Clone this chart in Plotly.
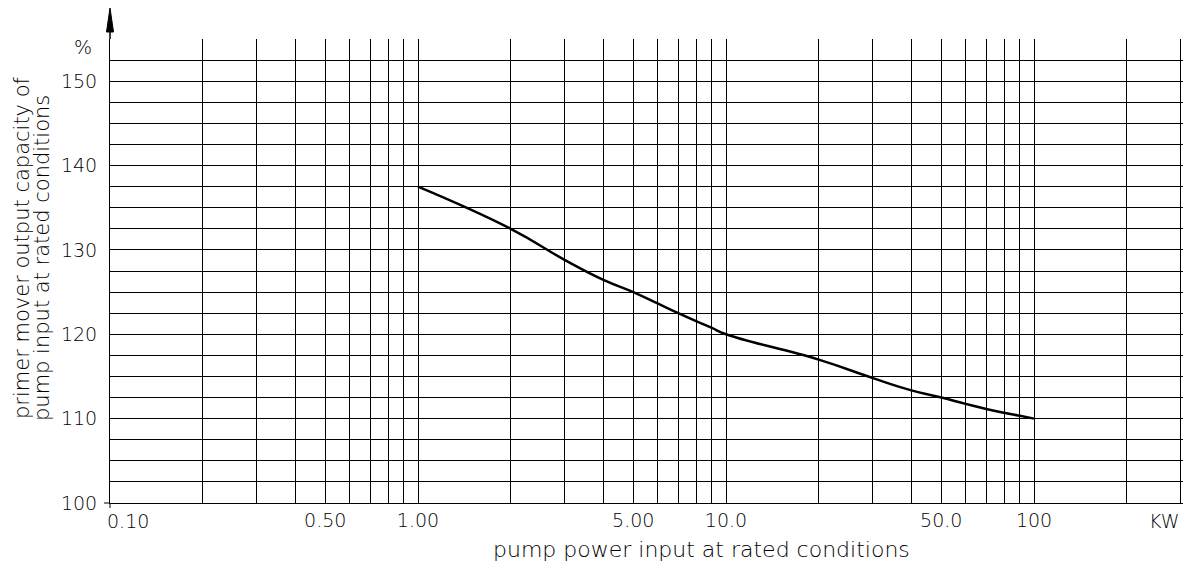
import math
import plotly.graph_objects as go

# ---- data ----
kw = [1, 2, 3, 4, 5, 6, 7, 8, 9, 10, 20, 30, 40, 50, 60, 70, 80, 90, 100]
capacity = [137.5, 132.5, 128.8, 126.45, 125.0, 123.65, 122.5, 121.55, 120.75, 120.0,
            117.0, 114.8, 113.35, 112.5, 111.75, 111.15, 110.7, 110.33, 110.0]

x_label_vals = [0.5, 1, 5, 10, 50, 100]
x_label_text = ["0.50", "1.00", "5.00", "10.0", "50.0", "100"]
x_first_label = "0.10"
x_unit_label = "KW"
x_grid_minor = [0.2, 0.3, 0.4, 0.6, 0.7, 0.8, 0.9,
                2, 3, 4, 6, 7, 8, 9,
                20, 30, 40, 60, 70, 80, 90,
                200, 300]

y_label_vals = [100, 110, 120, 130, 140, 150]
y_label_text = ["100", "110", "120", "130", "140", "150"]
y_grid_minor = [102.5, 105, 107.5, 112.5, 115, 117.5, 122.5, 125, 127.5,
                132.5, 135, 137.5, 142.5, 145, 147.5, 152.5]

x_title = "pump power input at rated conditions"
y_title_1 = "primer mover output capacity of"
y_title_2 = "pump input at rated conditions"
y_unit = "%"

FONT = "DejaVu Sans"
TXT = "#000000"
tickfont = dict(family=FONT, size=19, color=TXT, weight=200)
titlefont = dict(family=FONT, size=21, color=TXT, weight=200)
xtitlefont = dict(family=FONT, size=22, color=TXT, weight=200)

W, H = 1183, 563
ML, MR, MT, MB = 110, 0, 39, 60
PW, PH = W - ML - MR, H - MT - MB

fig = go.Figure()
fig.add_trace(go.Scatter(x=kw, y=capacity, mode="lines",
                         line=dict(color="black", width=2.5, shape="spline", smoothing=1.3),
                         hoverinfo="x+y"))

fig.update_xaxes(type="log", range=[-1, -1 + PW / 308.0],
                 tickvals=x_label_vals, ticktext=x_label_text,
                 tickfont=tickfont, ticks="", ticklabelstandoff=0,
                 showgrid=True, gridcolor="#000", gridwidth=1,
                 minor=dict(tickvals=x_grid_minor, showgrid=True,
                            gridcolor="#000", gridwidth=1, ticks=""),
                 showline=True, linecolor="#000", linewidth=1,
                 zeroline=False)
fig.update_yaxes(range=[100, 155],
                 tickvals=y_label_vals, ticktext=y_label_text,
                 tickfont=tickfont, ticks="", ticklabelstandoff=8,
                 showgrid=True, gridcolor="#000", gridwidth=1,
                 minor=dict(tickvals=y_grid_minor, showgrid=True,
                            gridcolor="#000", gridwidth=1, ticks=""),
                 showline=True, linecolor="#000", linewidth=1,
                 zeroline=False)

ann = []
ann.append(dict(x=math.log10(0.1), y=0, xref="x", yref="paper", text=x_first_label,
                showarrow=False, xanchor="left", yanchor="top", xshift=-5, yshift=-5,
                font=tickfont))
ann.append(dict(x=(1164 - ML) / PW, y=0, xref="paper", yref="paper", text=x_unit_label,
                showarrow=False, xanchor="center", yanchor="top", yshift=-5,
                font=tickfont))
ann.append(dict(x=(701 - ML) / PW, y=-46 / PH, xref="paper", yref="paper", text=x_title,
                showarrow=False, xanchor="center", yanchor="middle", font=xtitlefont))
ann.append(dict(x=(22 - ML) / PW, y=(H - MB - 248) / PH, xref="paper", yref="paper",
                text=y_title_1, textangle=-90, showarrow=False,
                xanchor="center", yanchor="middle", font=titlefont))
ann.append(dict(x=(42 - ML) / PW, y=(H - MB - 258) / PH, xref="paper", yref="paper",
                text=y_title_2, textangle=-90, showarrow=False,
                xanchor="center", yanchor="middle", font=titlefont))
ann.append(dict(x=(83 - ML) / PW, y=154, xref="paper", yref="y", text=y_unit,
                showarrow=False, xanchor="center", yanchor="middle", font=tickfont))

shapes = []
tip = 1 + 31 / PH
base = 1 + 7 / PH
hw = 3.5 / PW
shapes.append(dict(type="line", xref="paper", yref="paper", x0=0, x1=0, y0=1, y1=base,
                   line=dict(color="#000", width=1.5)))
shapes.append(dict(type="path", xref="paper", yref="paper",
                   path=f"M 0 {tip} L {-hw} {base} L {hw} {base} Z",
                   fillcolor="#000", line=dict(color="#000", width=1)))
shapes.append(dict(type="line", xref="paper", yref="paper", x0=-6 / PW, x1=0, y0=0, y1=0,
                   line=dict(color="#000", width=1)))
shapes.append(dict(type="line", xref="paper", yref="paper", x0=0, x1=0, y0=0, y1=-5 / PH,
                   line=dict(color="#000", width=1)))

fig.update_layout(width=W, height=H, margin=dict(l=ML, r=MR, t=MT, b=MB),
                  plot_bgcolor="white", paper_bgcolor="white", showlegend=False,
                  annotations=ann, shapes=shapes)

fig.write_html("out.html", config={"displayModeBar": False},
               post_script="document.body.style.margin='0';document.body.style.overflow='hidden';")
